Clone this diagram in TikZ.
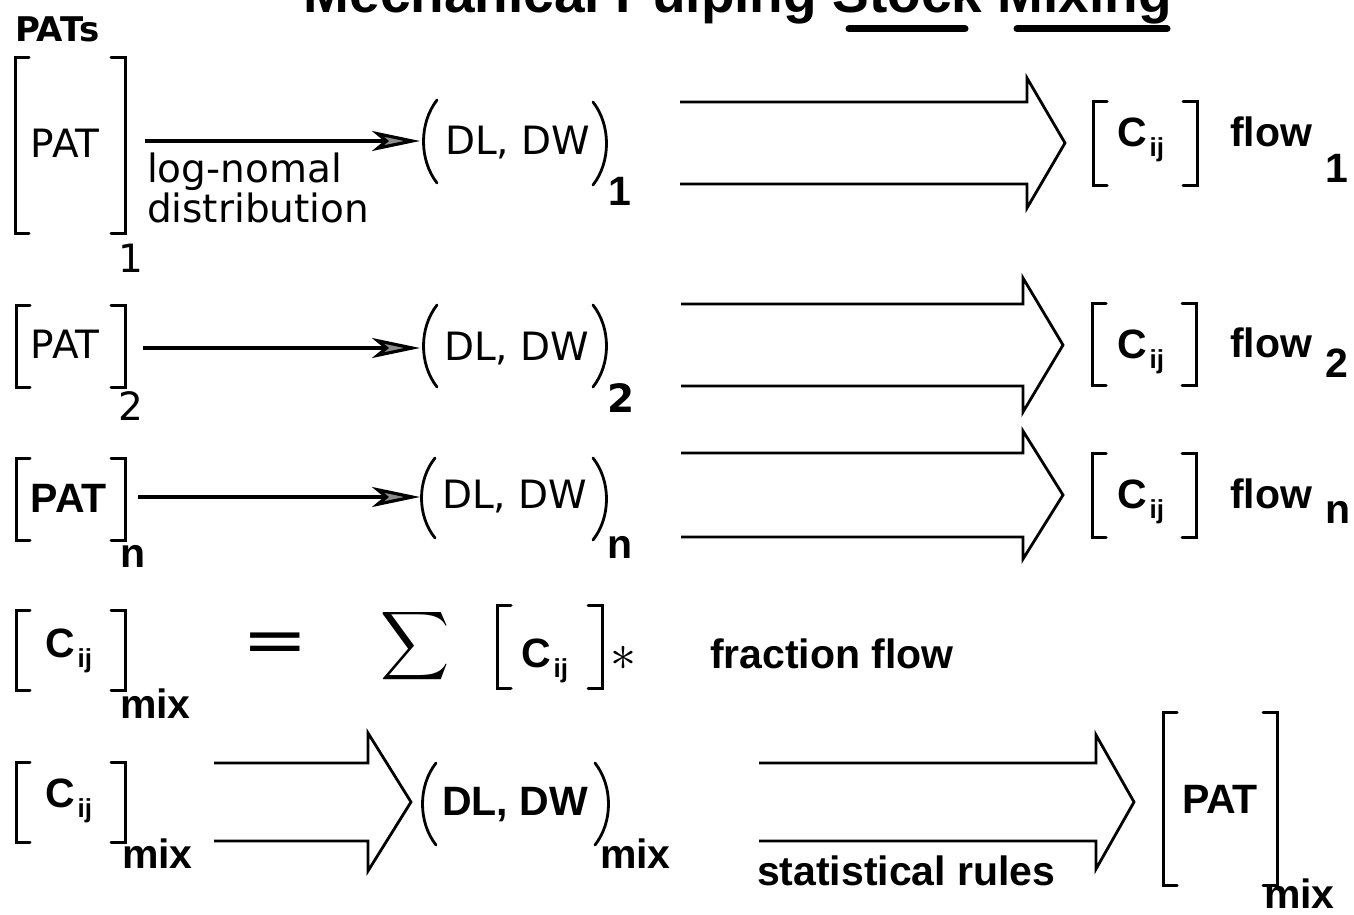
\documentclass[tikz,border=0pt]{standalone}
\usepackage{fontspec}
\setmainfont{Liberation Sans}
\newfontfamily\ofont{DejaVu Sans}
\usetikzlibrary{arrows.meta,calc}
\newcommand\bft{\fontsize{20.5}{24}\selectfont\bfseries}
\newcommand\oft{\ofont\fontsize{19.5}{23}\selectfont}
\newcommand\subt{\fontsize{13}{14}\selectfont\bfseries}
\newcommand\cij{\bft C\kern1.5pt\raisebox{-5pt}{\subt ij}}
\tikzset{
  txt/.style={inner sep=0pt, outer sep=0pt, anchor=base west},
  ctr/.style={inner sep=0pt, outer sep=0pt, anchor=center},
  brk/.style={line width=1.5pt, line cap=round, line join=miter},
  par/.style={line width=1.4pt, line cap=round},
  thinarr/.style={line width=1.6pt, -{Stealth[length=24pt,width=10pt,inset=6pt,fill=black!45]}},
  fat/.style={line width=1.4pt, line join=miter},
}
\newcommand\LBrk[3]{\draw[brk] ({#1+14},#2) -- (#1,#2) -- (#1,#3) -- ({#1+14},#3);}
\newcommand\RBrk[3]{\draw[brk] ({#1-14},#2) -- (#1,#2) -- (#1,#3) -- ({#1-14},#3);}
\newcommand\LPar[3]{\draw[par] ({#1+14},#2) .. controls ({#1-4},{0.72*#2+0.28*#3}) and ({#1-4},{0.28*#2+0.72*#3}) .. ({#1+14},#3);}
\newcommand\RPar[3]{\draw[par] ({#1-14},#2) .. controls ({#1+4},{0.72*#2+0.28*#3}) and ({#1+4},{0.28*#2+0.72*#3}) .. ({#1-14},#3);}
\newcommand\fatarrow[5]{\draw[fat] ($(#1)+(0,-#3)$) -- ($(#2)+(-#5,-#3)$) -- ($(#2)+(-#5,-#4)$) -- (#2) -- ($(#2)+(-#5,#4)$) -- ($(#2)+(-#5,#3)$) -- ($(#1)+(0,#3)$);}
\begin{document}
\begin{tikzpicture}[x=0.5pt,y=-0.5pt]
\fill[white] (0,0) rectangle (1354,915);
\useasboundingbox (0,0) rectangle (1354,915);
% title
\node[inner sep=0pt, anchor=base east] (title) at (1172,13) {\fontsize{27.5}{30}\selectfont\bfseries Mechanical Pulping Stock Mixing};
\coordinate (u1a) at (849,29); \coordinate (u1b) at (965,29);
\coordinate (u2a) at (1017,29); \coordinate (u2b) at (1167,29);
\draw[line width=3.5pt, line cap=round] (u1a) -- (u1b);
\draw[line width=3.5pt, line cap=round] (u2a) -- (u2b);
\node[txt] (pats) at (15,42) {\ofont\fontsize{17}{19}\selectfont\bfseries PATs};
% row 1
\LBrk{15}{58}{233} \RBrk{125}{58}{233}
\node[txt] (pat1) at (31,157) {\oft PAT};
\node[txt] (pat1s) at (118,272) {\oft 1};
\coordinate (a1s) at (145,141); \coordinate (a1e) at (420,141);
\draw[thinarr] (a1s) -- (a1e);
\node[txt] (ln) at (147,182) {\oft log-nomal};
\node[txt] (dist) at (147,222) {\oft distribution};
\LPar{423}{100}{183} \RPar{607}{102}{185}
\node[txt] (dl1) at (445,155) {\oft DL, DW};
\node[txt] (dl1s) at (608,205) {\bft 1};
\coordinate (b1s) at (680,143); \coordinate (b1e) at (1065,143);
\fatarrow{b1s}{b1e}{41}{65}{38}
\LBrk{1093}{102}{185} \RBrk{1197}{102}{185}
\node[txt] (c1) at (1117,147) {\cij};
\node[txt] (fl1) at (1230,147) {\bft flow};
\node[txt] (fl1s) at (1325,182) {\bft 1};
% row 2
\LBrk{16}{305}{387} \RBrk{125}{305}{387}
\node[txt] (pat2) at (31,358) {\oft PAT};
\node[txt] (pat2s) at (118,420) {\oft 2};
\coordinate (a2s) at (143,348); \coordinate (a2e) at (420,348);
\draw[thinarr] (a2s) -- (a2e);
\LPar{423}{305}{387} \RPar{607}{305}{387}
\node[txt] (dl2) at (444,360) {\oft DL, DW};
\node[txt] (dl2s) at (607,412) {\oft\bfseries 2};
\coordinate (b2s) at (681,345); \coordinate (b2e) at (1063,345);
\fatarrow{b2s}{b2e}{41}{67}{40}
\LBrk{1092}{303}{385} \RBrk{1196}{303}{385}
\node[txt] (c2) at (1117,358) {\cij};
\node[txt] (fl2) at (1230,357) {\bft flow};
\node[txt] (fl2s) at (1325,377) {\bft 2};
% row n
\LBrk{16}{458}{540} \RBrk{125}{458}{540}
\node[txt] (patn) at (31,512) {\bft PAT};
\node[txt] (patns) at (120,567) {\bft n};
\coordinate (ans) at (138,497); \coordinate (ane) at (420,497);
\draw[thinarr] (ans) -- (ane);
\LPar{421}{458}{538} \RPar{607}{458}{540}
\node[txt] (dln) at (442,508) {\oft DL, DW};
\node[txt] (dlns) at (607,558) {\bft n};
\coordinate (bns) at (681,495); \coordinate (bne) at (1063,495);
\fatarrow{bns}{bne}{42}{64}{40}
\LBrk{1092}{453}{537} \RBrk{1196}{453}{537}
\node[txt] (cn) at (1117,508) {\cij};
\node[txt] (fln) at (1230,508) {\bft flow};
\node[txt] (flns) at (1325,523) {\bft n};
% mix equation
\LBrk{16}{610}{690} \RBrk{125}{610}{690}
\node[txt] (cm1) at (45,657) {\cij};
\node[txt] (mix1) at (120,718) {\bft mix};
\node[ctr] (eq) at (275,646) {\scalebox{2.4}[1.2]{\bft =}};
\node[ctr] (sig) at (415,646) {\scalebox{2.4}{$\displaystyle\sum$}};
\LBrk{497}{605}{688} \RBrk{602}{605}{688}
\node[txt] (cm2) at (521,667) {\cij};
\node[ctr] (ast) at (623,658) {\scalebox{2.6}{$\ast$}};
\node[txt] (ff) at (710,668) {\bft fraction flow};
% mix row
\LBrk{16}{762}{842} \RBrk{125}{762}{842}
\node[txt] (cm3) at (45,807) {\cij};
\node[txt] (mix2) at (122,868) {\bft mix};
\coordinate (m1s) at (214,802); \coordinate (m1e) at (411,802);
\fatarrow{m1s}{m1e}{39}{69}{43}
\LPar{422}{763}{845} \RPar{609}{763}{845}
\node[txt] (dlm) at (442,815) {\bft DL, DW};
\node[txt] (dlms) at (600,868) {\bft mix};
\coordinate (m2s) at (759,802); \coordinate (m2e) at (1134,802);
\fatarrow{m2s}{m2e}{39}{67}{38}
\node[txt] (sr) at (757,885) {\bft statistical rules};
\LBrk{1163}{712}{885} \RBrk{1277}{712}{885}
\node[txt] (patm) at (1182,813) {\bft PAT};
\node[txt] (patms) at (1264,908) {\bft mix};
\end{tikzpicture}
\end{document}
